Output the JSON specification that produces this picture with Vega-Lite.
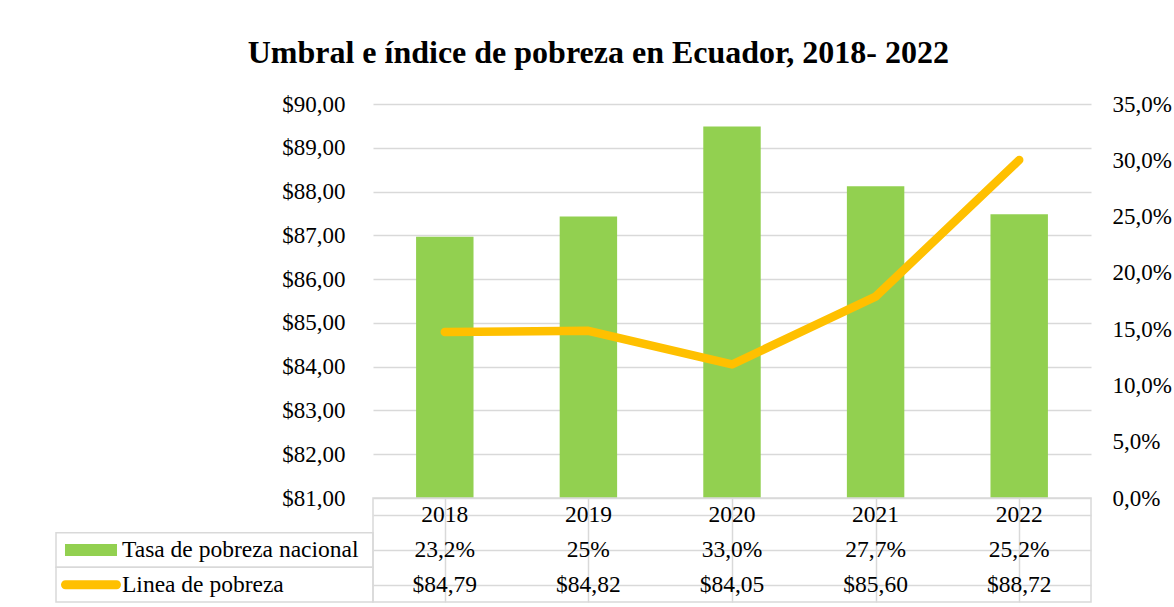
{
  "$schema": "https://vega.github.io/schema/vega-lite/v6.json",
  "padding": {"left": 55, "top": 37, "right": 5, "bottom": 0},
  "autosize": {"type": "pad"},
  "title": {
    "text": "Umbral e índice de pobreza en Ecuador, 2018- 2022",
    "font": "Liberation Serif",
    "fontSize": 32,
    "fontWeight": "bold",
    "color": "#000000",
    "anchor": "middle",
    "frame": "bounds",
    "offset": 23,
    "dx": -15
  },
  "datasets": {
    "datos": [
      {"anio": "2018", "tasa": 0.232, "linea": 84.79, "tasa_txt": "23,2%", "linea_txt": "$84,79"},
      {"anio": "2019", "tasa": 0.25, "linea": 84.82, "tasa_txt": "25%", "linea_txt": "$84,82"},
      {"anio": "2020", "tasa": 0.33, "linea": 84.05, "tasa_txt": "33,0%", "linea_txt": "$84,05"},
      {"anio": "2021", "tasa": 0.277, "linea": 85.6, "tasa_txt": "27,7%", "linea_txt": "$85,60"},
      {"anio": "2022", "tasa": 0.252, "linea": 88.72, "tasa_txt": "25,2%", "linea_txt": "$88,72"}
    ],
    "series": [
      {"serie": "Tasa de pobreza nacional", "fila": "tasa"},
      {"serie": "Linea de pobreza", "fila": "linea"}
    ]
  },
  "columns": 2,
  "spacing": 0,
  "bounds": "flush",
  "align": "each",
  "concat": [
    {
      "data": {"values": []},
      "mark": "point",
      "width": 317,
      "height": 394
    },
    {
      "width": 718,
      "height": 394,
      "data": {"name": "datos"},
      "encoding": {
        "x": {"field": "anio", "type": "ordinal", "scale": {"paddingInner": 0, "paddingOuter": 0}, "axis": null}
      },
      "layer": [
        {
          "mark": {"type": "bar", "color": "#92D050", "width": {"band": 0.4}},
          "encoding": {
            "y": {
              "field": "tasa", "type": "quantitative",
              "scale": {"domain": [0, 0.35], "nice": false, "zero": true},
              "axis": {
                "orient": "right", "values": [0, 0.05, 0.1, 0.15, 0.2, 0.25, 0.3, 0.35],
                "grid": false, "ticks": false, "domain": false, "labelPadding": 21,
                "labelAlign": "left", "labelBaseline": "middle",
                "labelFont": "Liberation Serif", "labelFontSize": 23, "labelColor": "#000000",
                "labelExpr": "replace(format(datum.value, '.1%'), '.', ',')",
                "title": null
              }
            }
          }
        },
        {
          "mark": {"type": "line", "color": "#FFC000", "strokeWidth": 8.5, "strokeCap": "round", "strokeJoin": "round"},
          "encoding": {
            "y": {
              "field": "linea", "type": "quantitative",
              "scale": {"domain": [81, 90], "nice": false, "zero": false},
              "axis": {
                "orient": "left", "values": [81, 82, 83, 84, 85, 86, 87, 88, 89, 90],
                "grid": true, "gridColor": "#d9d9d9", "gridWidth": 1.5,
                "ticks": false, "domain": false, "labelPadding": 28,
                "labelBaseline": "middle",
                "labelFont": "Liberation Serif", "labelFontSize": 23, "labelColor": "#000000",
                "labelExpr": "'$' + replace(format(datum.value, '.2f'), '.', ',')",
                "title": null
              }
            }
          }
        }
      ],
      "resolve": {"scale": {"y": "independent"}}
    },
    {
      "width": 317,
      "height": 104,
      "data": {"name": "series"},
      "encoding": {
        "y": {"field": "fila", "type": "nominal", "scale": {"domain": ["year", "tasa", "linea"], "paddingInner": 0, "paddingOuter": 0}, "axis": null}
      },
      "layer": [
        {"mark": {"type": "rect", "fill": "#ffffff", "stroke": "#d9d9d9", "strokeWidth": 1.5}},
        {
          "mark": {"type": "point", "filled": true, "size": 3600, "opacity": 1, "strokeWidth": 0},
          "encoding": {
            "x": {"datum": "sym", "type": "ordinal", "scale": {"type": "point", "domain": ["sym", "txt"], "range": [35, 66], "padding": 0}, "axis": null},
            "shape": {
              "field": "serie", "type": "nominal",
              "scale": {
                "domain": ["Tasa de pobreza nacional", "Linea de pobreza"],
                "range": ["M-0.867,-0.2L0.867,-0.2L0.867,0.2L-0.867,0.2Z", "M-0.85,-0.15L0.85,-0.15A0.15,0.15 0 0 1 0.85,0.15L-0.85,0.15A0.15,0.15 0 0 1 -0.85,-0.15Z"]
              },
              "legend": null
            },
            "color": {
              "field": "serie", "type": "nominal",
              "scale": {"domain": ["Tasa de pobreza nacional", "Linea de pobreza"], "range": ["#92D050", "#FFC000"]},
              "legend": null
            }
          }
        },
        {
          "mark": {"type": "text", "align": "left", "baseline": "middle", "fontSize": 23.5, "font": "Liberation Serif", "color": "#000000"},
          "encoding": {
            "x": {"datum": "txt", "type": "ordinal"},
            "text": {"field": "serie"}
          }
        }
      ]
    },
    {
      "width": 718,
      "height": 104,
      "data": {"name": "datos"},
      "view": {"stroke": "#d9d9d9", "strokeWidth": 1.5},
      "encoding": {
        "x": {
          "field": "anio", "type": "ordinal", "scale": {"paddingInner": 0, "paddingOuter": 0},
          "axis": {"orient": "top", "labels": false, "ticks": false, "domain": false, "grid": true, "bandPosition": 0, "gridColor": "#d9d9d9", "gridWidth": 1.5, "title": null}
        }
      },
      "layer": [
        {
          "mark": {"type": "text", "fontSize": 23.5, "font": "Liberation Serif", "color": "#000000"},
          "encoding": {
            "y": {
              "datum": "year", "type": "nominal",
              "scale": {"domain": ["year", "tasa", "linea"], "paddingInner": 0, "paddingOuter": 0},
              "axis": {"labels": false, "ticks": false, "domain": false, "grid": true, "bandPosition": 0, "gridColor": "#d9d9d9", "gridWidth": 1.5, "title": null}
            },
            "text": {"field": "anio"}
          }
        },
        {
          "mark": {"type": "text", "fontSize": 23.5, "font": "Liberation Serif", "color": "#000000"},
          "encoding": {"y": {"datum": "tasa", "type": "nominal"}, "text": {"field": "tasa_txt"}}
        },
        {
          "mark": {"type": "text", "fontSize": 23.5, "font": "Liberation Serif", "color": "#000000"},
          "encoding": {"y": {"datum": "linea", "type": "nominal"}, "text": {"field": "linea_txt"}}
        }
      ]
    }
  ],
  "config": {
    "view": {"stroke": null},
    "font": "Liberation Serif",
    "axis": {"labelFont": "Liberation Serif", "labelFontSize": 23, "labelColor": "#000000"}
  }
}
